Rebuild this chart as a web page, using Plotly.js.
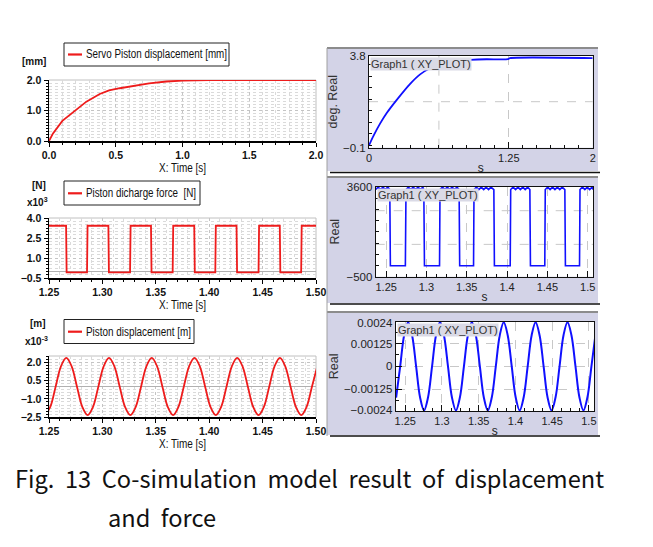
<!DOCTYPE html>
<html><head><meta charset="utf-8">
<script src="https://cdn.plot.ly/plotly-3.0.1.min.js"></script>
<style>html,body{margin:0;padding:0;background:#fff;}#chart{width:653px;height:547px;}</style>
</head><body><div id="chart"></div>
<script>
// ---------- DATA ----------
// Left top: Servo piston displacement [mm]
const L1_t = [0, 0.03, 0.1, 0.19, 0.28, 0.38, 0.45, 0.53, 0.63, 0.75, 0.88, 1.0, 1.2, 1.5, 2.0];
const L1_v = [0, 0.25, 0.66, 0.99, 1.29, 1.54, 1.66, 1.73, 1.81, 1.89, 1.95, 1.98, 2.0, 2.0, 2.0];
// Left middle: Piston discharge force [N] x10^3
const L2_t = [1.25, 1.2660, 1.2665, 1.2856, 1.2861, 1.3056, 1.3061, 1.3259, 1.3264, 1.3455, 1.3460, 1.3658, 1.3663,
              1.3860, 1.3865, 1.4057, 1.4062, 1.4256, 1.4261, 1.4462, 1.4467, 1.4661, 1.4666, 1.4861, 1.4866, 1.50];
const L2_v = [3.42, 3.42, -0.08, -0.08, 3.42, 3.42, -0.08, -0.08, 3.42, 3.42, -0.08, -0.08, 3.42,
              3.42, -0.08, -0.08, 3.42, 3.42, -0.08, -0.08, 3.42, 3.42, -0.08, -0.08, 3.42, 3.42];
// Left bottom: Piston displacement [m] x10^-3
const L3_t = [1.2462,1.2512,1.2562,1.2612,1.2662,1.2712,1.2762,1.2812,
              1.2862,1.2912,1.2962,1.3012,1.3062,1.3112,1.3162,1.3212,
              1.3262,1.3312,1.3362,1.3412,1.3462,1.3512,1.3562,1.3612,
              1.3662,1.3712,1.3762,1.3812,1.3862,1.3912,1.3962,1.4012,
              1.4062,1.4112,1.4162,1.4212,1.4262,1.4312,1.4362,1.4412,
              1.4462,1.4512,1.4562,1.4612,1.4662,1.4712,1.4762,1.4812,
              1.4862,1.4912,1.4962,1.5012];
const L3_v = [-2.33,-1.65,0,1.66,2.35,1.66,0,-1.65,
              -2.33,-1.65,0,1.66,2.35,1.66,0,-1.65,
              -2.33,-1.65,0,1.66,2.35,1.66,0,-1.65,
              -2.33,-1.65,0,1.66,2.35,1.66,0,-1.65,
              -2.33,-1.65,0,1.66,2.35,1.66,0,-1.65,
              -2.33,-1.65,0,1.66,2.35,1.66,0,-1.65,
              -2.33,-1.65,0,1.66];
// Right top: deg. Real
const R1_t = [0, 0.04, 0.1, 0.16, 0.25, 0.37, 0.46, 0.55, 0.65, 0.75, 0.9, 1.05, 1.24, 1.26, 2.0];
const R1_v = [0, 0.40, 0.93, 1.38, 1.94, 2.62, 3.02, 3.28, 3.45, 3.55, 3.62, 3.65, 3.65, 3.70, 3.70];
// Right middle: force (Real)
const R2_t = [1.237,1.240,1.243,1.246,1.249,1.252,1.2545, 1.2552,1.2738,
              1.2746,1.2775,1.2805,1.2835,1.2865,1.2895,1.2925,1.2955,1.2967, 1.2975,1.3162,
              1.3168,1.3198,1.3228,1.3258,1.3288,1.3318,1.3348,1.3378,1.3405, 1.3412,1.3584,
              1.3590,1.3620,1.3650,1.3680,1.3710,1.3740,1.3770,1.3800,1.3836, 1.3843,1.4039,
              1.4045,1.4075,1.4105,1.4135,1.4165,1.4195,1.4225,1.4255,1.4283, 1.4290,1.4468,
              1.4474,1.4504,1.4534,1.4564,1.4594,1.4624,1.4654,1.4684,1.4717, 1.4724,1.4899,
              1.4905,1.4935,1.4965,1.4995,1.5025,1.5055,1.507];
const R2_v = [3470,3580,3470,3580,3470,3580,3470, 0,0,
              3470,3580,3470,3580,3470,3580,3470,3580,3470, 0,0,
              3470,3580,3470,3580,3470,3580,3470,3580,3470, 0,0,
              3470,3580,3470,3580,3470,3580,3470,3580,3470, 0,0,
              3470,3580,3470,3580,3470,3580,3470,3580,3470, 0,0,
              3470,3580,3470,3580,3470,3580,3470,3580,3470, 0,0,
              3470,3580,3470,3580,3470,3580,3470];
// Right bottom: displacement (Real)
const R3_t = [1.2376,1.2431,1.2485,1.2539,1.2593,1.2648,1.2702,1.2756,
              1.2810,1.2865,1.2919,1.2973,1.3027,1.3082,1.3136,1.3190,
              1.3244,1.3299,1.3353,1.3407,1.3461,1.3516,1.3570,1.3624,
              1.3678,1.3733,1.3787,1.3841,1.3895,1.3950,1.4004,1.4058,
              1.4112,1.4167,1.4221,1.4275,1.4329,1.4384,1.4438,1.4492,
              1.4546,1.4601,1.4655,1.4709,1.4763,1.4818,1.4872,1.4926,
              1.4980,1.5035,1.5089];
const R3_v = [-0.00171,0,0.00171,0.00242,0.00171,0,-0.00171,-0.00242,
              -0.00171,0,0.00171,0.00242,0.00171,0,-0.00171,-0.00242,
              -0.00171,0,0.00171,0.00242,0.00171,0,-0.00171,-0.00242,
              -0.00171,0,0.00171,0.00242,0.00171,0,-0.00171,-0.00242,
              -0.00171,0,0.00171,0.00242,0.00171,0,-0.00171,-0.00242,
              -0.00171,0,0.00171,0.00242,0.00171,0,-0.00171,-0.00242,
              -0.00171,0,0.00171];

// tick labels
const L1_xticks = [0, 0.5, 1.0, 1.5, 2.0];
const L1_yticks = [0, 1.0, 2.0];
const L23_xticks = [1.25, 1.30, 1.35, 1.40, 1.45, 1.50];
const L2_yticks = [-0.5, 1.0, 2.5, 4.0];
const L3_yticks = [-2.5, -1.0, 0.5, 2.0];
const R1_xticks = [0, 1.25, 2];
const R1_xtext = ['0', '1.25', '2'];
const R1_yticks = [-0.1, 3.8];
const R1_ytext = ['\u22120.1', '3.8'];
const R23_xticks = [1.25, 1.3, 1.35, 1.4, 1.45, 1.5];
const R23_xtext = ['1.25', '1.3', '1.35', '1.4', '1.45', '1.5'];
const R2_yticks = [-500, 3600];
const R2_ytext = ['\u2212500', '3600'];
const R3_yticks = [-0.0024, -0.00125, 0, 0.00125, 0.0024];
const R3_ytext = ['\u22120.0024', '\u22120.00125', '0', '0.00125', '0.0024'];

// ---------- LAYOUT HELPERS ----------
const W = 653, H = 547;
const px = x => x / W, py = y => 1 - y / H;
const SANS = '"Liberation Sans", Arial, sans-serif';
const RED = '#ee1c1c', BLUE = '#1010ff';

function leftX(l, r, range, tickvals, fmt, minorD, anchor) {
  return {domain: [px(l), px(r)], range: range, anchor: anchor, tickvals: tickvals, tickformat: fmt,
    ticks: 'outside', ticklen: 4, tickcolor: '#000', showline: true, linecolor: '#000', linewidth: 1.5,
    showgrid: true, gridcolor: '#c4c4c4', griddash: 'dot', zeroline: false,
    minor: {dtick: minorD, ticks: 'outside', ticklen: 2, tickcolor: '#000', showgrid: true, gridcolor: '#dadada', griddash: 'dot'},
    tickfont: {family: SANS, size: 10.5, color: '#111', weight: 'bold'},
    title: {text: 'X: Time [s]', font: {family: SANS, size: 12, color: '#111'}, standoff: 0}};
}
function leftY(t, b, range, tickvals, minorD, anchor, zero) {
  return {domain: [py(b), py(t)], range: range, anchor: anchor, tickvals: tickvals, tickformat: '.1f',
    ticks: 'outside', ticklen: 4, tickcolor: '#000', showline: true, linecolor: '#000', linewidth: 1.5,
    showgrid: true, gridcolor: '#c4c4c4', griddash: 'dot', zeroline: zero, zerolinecolor: '#b0b0b0', zerolinewidth: 1,
    minor: {dtick: minorD, ticks: 'outside', ticklen: 2, tickcolor: '#000', showgrid: true, gridcolor: '#dadada', griddash: 'dot'},
    tickfont: {family: SANS, size: 10.5, color: '#111', weight: 'bold'}};
}
function rightX(l, r, range, tickvals, ticktext, minorD, anchor) {
  return {domain: [px(l), px(r)], range: range, anchor: anchor, tickvals: tickvals, ticktext: ticktext,
    ticks: 'inside', ticklen: 6, tickcolor: '#111', showline: true, mirror: true, linecolor: '#111', linewidth: 1,
    showgrid: true, gridcolor: '#c8c8c8', griddash: 'dash', zeroline: false,
    minor: {dtick: minorD, ticks: 'inside', ticklen: 3, tickcolor: '#111', showgrid: false},
    tickfont: {family: SANS, size: 11, color: '#222'},
    title: {text: 's', font: {family: SANS, size: 12, color: '#222'}, standoff: 0}};
}
function rightY(t, b, range, tickvals, ticktext, minor, anchor, title, standoff) {
  return {domain: [py(b), py(t)], range: range, anchor: anchor, tickvals: tickvals, ticktext: ticktext,
    ticks: 'inside', ticklen: 6, tickcolor: '#111', showline: true, mirror: true, linecolor: '#111', linewidth: 1,
    showgrid: true, gridcolor: '#c8c8c8', griddash: 'dash', zeroline: false,
    minor: Object.assign({ticks: 'inside', ticklen: 3, tickcolor: '#111', showgrid: false}, minor),
    tickfont: {family: SANS, size: 11.5, color: '#222'},
    title: {text: title, font: {family: SANS, size: 12.5, color: '#333'}, standoff: standoff}};
}

// ---------- TRACES ----------
const traces = [
  {x: L1_t, y: L1_v, xaxis: 'x', yaxis: 'y', mode: 'lines', line: {color: RED, width: 1.8}, name: 'Servo Piston displacement [mm]'},
  {x: L2_t, y: L2_v, xaxis: 'x2', yaxis: 'y2', mode: 'lines', line: {color: RED, width: 1.8}, name: 'Piston dicharge force [N]'},
  {x: L3_t, y: L3_v, xaxis: 'x3', yaxis: 'y3', mode: 'lines', line: {color: RED, width: 1.8, shape: 'spline'}, name: 'Piston displacement [m]'},
  {x: R1_t, y: R1_v, xaxis: 'x4', yaxis: 'y4', mode: 'lines', line: {color: BLUE, width: 1.8, shape: 'spline', smoothing: 0.6}, name: 'Graph1'},
  {x: R2_t, y: R2_v, xaxis: 'x5', yaxis: 'y5', mode: 'lines', line: {color: BLUE, width: 1.6}, name: 'Graph1'},
  {x: R3_t, y: R3_v, xaxis: 'x6', yaxis: 'y6', mode: 'lines', line: {color: BLUE, width: 2, shape: 'spline'}, name: 'Graph1'}
];

// ---------- GEOMETRY (pixels) ----------
const LX = [49, 316];
const L1Y = [80, 141], L2Y = [218, 278], L3Y = [356, 417.3];
const R1 = {l: 369, r: 592.7, t: 55.7, b: 147.7};
const R2 = {l: 375.7, r: 593.3, t: 186.7, b: 276.7};
const R3 = {l: 395.7, r: 594, t: 321.7, b: 411};
const PANELS = [[48, 171], [177, 303], [312, 435]];
const LAV = '#D3D3E7';

const shapes = [];
function rectPx(x0, y0, x1, y1, fill, line, layer) {
  shapes.push({type: 'rect', xref: 'paper', yref: 'paper', x0: px(x0), x1: px(x1), y0: py(y1), y1: py(y0),
    fillcolor: fill, line: line || {width: 0}, layer: layer || 'below'});
}
function linePx(x0, y0, x1, y1, color, width, layer) {
  shapes.push({type: 'line', xref: 'paper', yref: 'paper', x0: px(x0), x1: px(x1), y0: py(y0), y1: py(y1),
    line: {color: color, width: width}, layer: layer || 'above'});
}
function gridLine(axis, other, v) {
  const s = {type: 'line', layer: 'below', line: {color: '#c8c8c8', width: 1, dash: 'dash'}};
  if (axis[0] === 'x') Object.assign(s, {xref: axis, yref: other + ' domain', x0: v, x1: v, y0: 0, y1: 1});
  else Object.assign(s, {yref: axis, xref: other + ' domain', y0: v, y1: v, x0: 0, x1: 1});
  shapes.push(s);
}
PANELS.forEach(p => rectPx(327, p[0], 598, p[1], LAV));
[R1, R2, R3].forEach(r => rectPx(r.l, r.t, r.r, r.b, '#ffffff'));
PANELS.forEach(p => linePx(327, p[0], 598, p[0], '#8c8c8c', 2, 'below'));
linePx(327, 48, 327, 436, '#a0a0a0', 1, 'below');
[172.5, 304, 436].forEach(y => linePx(330, y, 600, y, '#111', 1.5, 'below'));
gridLine('x4', 'y4', 0.625);
gridLine('y4', 'x4', 1.85);
gridLine('y5', 'x5', 973);
gridLine('y5', 'x5', 2507);
// left panel light frame (top/right)
[L1Y, L2Y, L3Y].forEach(yy => {
  linePx(LX[0], yy[0], LX[1], yy[0], '#c0c0c0', 1, 'below');
  linePx(LX[1], yy[0], LX[1], yy[1], '#c0c0c0', 1, 'below');
});
// legend boxes
const LEG = [
  {x0: 64, x1: 229, y0: 43, y1: 66, ly: 54.5, w: 141, text: 'Servo Piston displacement [mm]'},
  {x0: 64, x1: 200, y0: 181, y1: 205, ly: 193.3, w: 110, text: 'Piston dicharge force  [N]'},
  {x0: 64, x1: 194, y0: 319.5, y1: 343.5, ly: 331.7, w: 105, text: 'Piston displacement [m]'}
];
LEG.forEach(g => {
  rectPx(g.x0, g.y0, g.x1, g.y1, '#ffffff', {color: '#222', width: 1}, 'above');
  linePx(g.x0 + 4, g.ly, g.x0 + 18, g.ly, RED, 2.2, 'above');
});

const annotations = [];
function textPx(x, y, text, font, xanchor, extra) {
  annotations.push(Object.assign({xref: 'paper', yref: 'paper', x: px(x), y: py(y), text: text, showarrow: false,
    xanchor: xanchor || 'left', yanchor: 'middle', font: font}, extra || {}));
}
LEG.forEach(g => textPx(g.x0 + 20, g.ly, g.text, {family: SANS, size: 12, color: '#111'}));
const UNIT = {family: SANS, size: 10, color: '#111', weight: 'bold'};
textPx(48, 62, '[mm]', UNIT, 'right');
textPx(48, 185, '[N]', UNIT, 'right');
textPx(50, 202, 'x10<sup>3</sup>', UNIT, 'right');
textPx(48, 323, '[m]', UNIT, 'right');
textPx(50, 341, 'x10<sup>-3</sup>', UNIT, 'right');
[R1, R2, R3].forEach(r => textPx(r.l + 1, r.t + 8, 'Graph1 ( XY_PLOT)', {family: SANS, size: 11, color: '#333'}, 'left',
  {bgcolor: '#DADAE6', borderpad: 0}));
// caption
const CAP = {family: '"Noto Sans CJK KR", sans-serif', size: 23.6, color: '#111'};
textPx(13, 478, 'Fig.  13  Co-simulation  model  result  of  displacement', CAP);
textPx(106, 517, 'and  force', CAP);

const layout = {
  width: W, height: H, margin: {l: 0, r: 0, t: 0, b: 0}, showlegend: false,
  paper_bgcolor: '#ffffff', plot_bgcolor: '#ffffff',
  xaxis: leftX(LX[0], LX[1], [0, 2], L1_xticks, '.1f', 0.1, 'y'),
  yaxis: leftY(L1Y[0], L1Y[1], [0, 2], L1_yticks, 0.1, 'x', false),
  xaxis2: leftX(LX[0], LX[1], [1.25, 1.5], L23_xticks, '.2f', 0.01, 'y2'),
  yaxis2: leftY(L2Y[0], L2Y[1], [-0.5, 4.0], L2_yticks, 0.25, 'x2', true),
  xaxis3: leftX(LX[0], LX[1], [1.25, 1.5], L23_xticks, '.2f', 0.01, 'y3'),
  yaxis3: leftY(L3Y[0], L3Y[1], [-2.5, 2.5], L3_yticks, 0.25, 'x3', true),
  xaxis4: rightX(R1.l, R1.r, [0, 2], R1_xticks, R1_xtext, 0.125, 'y4'),
  yaxis4: rightY(R1.t, R1.b, [-0.1, 3.8], R1_yticks, R1_ytext, {dtick: 0.4875}, 'x4', 'deg. Real', 2),
  xaxis5: rightX(R2.l, R2.r, [1.237, 1.507], R23_xticks, R23_xtext, 0.0125, 'y5'),
  yaxis5: rightY(R2.t, R2.b, [-500, 3600], R2_yticks, R2_ytext, {dtick: 512.5}, 'x5', 'Real', 4),
  xaxis6: rightX(R3.l, R3.r, [1.237, 1.507], R23_xticks, R23_xtext, 0.0125, 'y6'),
  yaxis6: rightY(R3.t, R3.b, [-0.00245, 0.00245], R3_yticks, R3_ytext, {dtick: 0.000625}, 'x6', 'Real', 2),
  shapes: shapes, annotations: annotations
};

// condense text horizontally (the reference uses a narrow face)
function squeezeEl(el, target, keepLeft) {
  const len = el.getComputedTextLength();
  if (!len || len <= target) return;
  const b0 = el.getBBox();
  el.setAttribute('textLength', target);
  el.setAttribute('lengthAdjust', 'spacingAndGlyphs');
  const b1 = el.getBBox();
  const dx = keepLeft ? (b0.x - b1.x) : ((b0.x + b0.width / 2) - (b1.x + b1.width / 2));
  el.setAttribute('x', (parseFloat(el.getAttribute('x')) || 0) + dx);
}
Plotly.newPlot('chart', traces, layout, {staticPlot: true, displayModeBar: false}).then(gd => {
  gd.querySelectorAll('.annotation-text').forEach(el => {
    const g = LEG.find(l => l.text === el.textContent);
    if (g) squeezeEl(el, g.w, true);
  });
  gd.querySelectorAll('.g-xtitle text, .g-x2title text, .g-x3title text').forEach(el => squeezeEl(el, 47, false));
});
</script></body></html>
